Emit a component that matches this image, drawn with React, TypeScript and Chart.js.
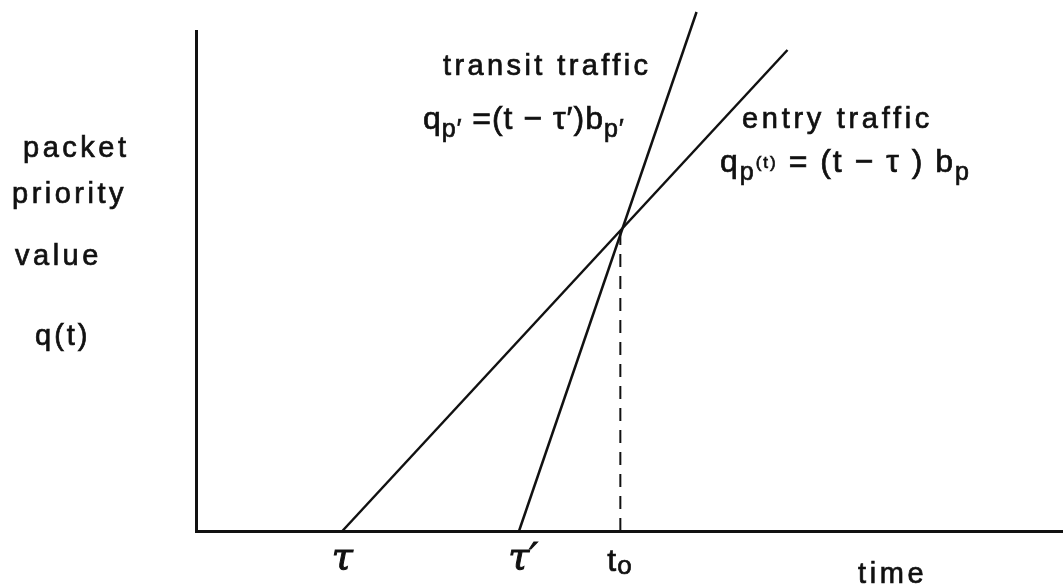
import React, { useEffect, useRef } from "react";
import { Chart, registerables } from "chart.js";

Chart.register(...registerables);

// Time marks on the horizontal axis (data units, 0..100)
const tickValues = [16.9, 37.3, 49.0];
const tickLabels = ["τ", "τ′", "t"];

// Series
const entryTraffic = [
  { x: 16.9, y: 0 },
  { x: 68.3, y: 96.2 },
];
const transitTraffic = [
  { x: 37.3, y: 0 },
  { x: 57.8, y: 103.8 },
];
const t0Marker = [
  { x: 49.0, y: 0 },
  { x: 49.0, y: 60.6 },
];

const yLabelLines = ["packet", "priority", "value"];
const FONT = '"Liberation Sans", Arial, sans-serif';

type Run = { t: string; size: number; dy?: number };

function drawRuns(ctx: CanvasRenderingContext2D, x: number, y: number, runs: Run[], spacing = 1) {
  let cx = x;
  for (const r of runs) {
    ctx.font = `${r.size}px ${FONT}`;
    (ctx as any).letterSpacing = `${spacing}px`;
    ctx.fillText(r.t, cx, y + (r.dy || 0));
    ctx.strokeText(r.t, cx, y + (r.dy || 0));
    cx += ctx.measureText(r.t).width;
  }
}

const textPlugin = {
  id: "diagramText",
  afterDraw(chart: any) {
    const ctx: CanvasRenderingContext2D = chart.ctx;
    const xs = chart.scales.x;
    ctx.save();
    ctx.fillStyle = "#111";
    ctx.strokeStyle = "#111";
    ctx.lineWidth = 0.7;
    ctx.textBaseline = "alphabetic";
    ctx.textAlign = "left";

    // y-axis description
    const yPos = [157, 203, 265];
    const xPos = [23, 12, 15];
    yLabelLines.forEach((s, i) => drawRuns(ctx, xPos[i], yPos[i], [{ t: s, size: 29 }], 3.5));
    drawRuns(ctx, 35, 345, [{ t: "q(t)", size: 29 }], 3);

    // series labels
    drawRuns(ctx, 443, 75, [{ t: "transit traffic", size: 29 }], 3.4);
    drawRuns(ctx, 423, 129, [
      { t: "q", size: 32 },
      { t: "p′", size: 25, dy: 8 },
      { t: " =(t − τ′)b", size: 32 },
      { t: "p′", size: 25, dy: 8 },
    ], 1);
    drawRuns(ctx, 742, 128, [{ t: "entry traffic", size: 29 }], 3.7);
    drawRuns(ctx, 720, 172, [
      { t: "q", size: 32 },
      { t: "p", size: 25, dy: 8 },
      { t: "(t)", size: 17, dy: -4 },
      { t: " = (t − τ ) b", size: 32 },
      { t: "p", size: 25, dy: 8 },
    ], 2);

    // axis tick labels
    const bottom = chart.chartArea.bottom;
    ctx.textAlign = "center";
    ctx.font = `italic 38px "DejaVu Serif", serif`;
    (ctx as any).letterSpacing = "0px";
    ctx.lineWidth = 1;
    ctx.fillText(tickLabels[0], xs.getPixelForValue(tickValues[0]), bottom + 38);
    ctx.strokeText(tickLabels[0], xs.getPixelForValue(tickValues[0]), bottom + 38);
    ctx.fillText(tickLabels[1], xs.getPixelForValue(tickValues[1]) + 4, bottom + 38);
    ctx.strokeText(tickLabels[1], xs.getPixelForValue(tickValues[1]) + 4, bottom + 38);
    ctx.lineWidth = 0.7;
    ctx.textAlign = "left";
    drawRuns(ctx, xs.getPixelForValue(tickValues[2]) - 13, bottom + 40, [
      { t: tickLabels[2], size: 32 },
      { t: "o", size: 26, dy: 3 },
    ], 1);
    drawRuns(ctx, 858, 583, [{ t: "time", size: 29 }], 3.6);
    ctx.restore();
  },
};

export default function App() {
  const ref = useRef<HTMLCanvasElement>(null);
  useEffect(() => {
    if (!ref.current) return;
    const lineStyle = { borderColor: "#111", pointRadius: 0, fill: false, clip: false as any, tension: 0 };
    const chart = new Chart(ref.current, {
      type: "scatter",
      data: {
        datasets: [
          { label: "entry traffic", data: entryTraffic, showLine: true, borderWidth: 2.5, ...lineStyle },
          { label: "transit traffic", data: transitTraffic, showLine: true, borderWidth: 2.5, ...lineStyle },
          { label: "t0", data: t0Marker, showLine: true, borderWidth: 2, borderDash: [13, 9], ...lineStyle },
        ],
      },
      options: {
        animation: false,
        responsive: false,
        layout: { padding: { left: 196, top: 31, right: 1, bottom: 55 } },
        plugins: { legend: { display: false }, tooltip: { enabled: false } },
        scales: {
          x: {
            type: "linear",
            min: 0,
            max: 100,
            ticks: { display: false },
            grid: { display: false, drawTicks: false },
            border: { display: true, color: "#111", width: 3 },
          },
          y: {
            type: "linear",
            min: 0,
            max: 100,
            ticks: { display: false },
            grid: { display: false, drawTicks: false },
            border: { display: true, color: "#111", width: 3 },
          },
        },
      },
      plugins: [textPlugin],
    });
    return () => chart.destroy();
  }, []);
  return (
    <div style={{ position: "fixed", left: 0, top: 0, width: 1063, height: 586, background: "#fff" }}>
      <canvas ref={ref} width={1063} height={586} style={{ width: 1063, height: 586 }} />
    </div>
  );
}
